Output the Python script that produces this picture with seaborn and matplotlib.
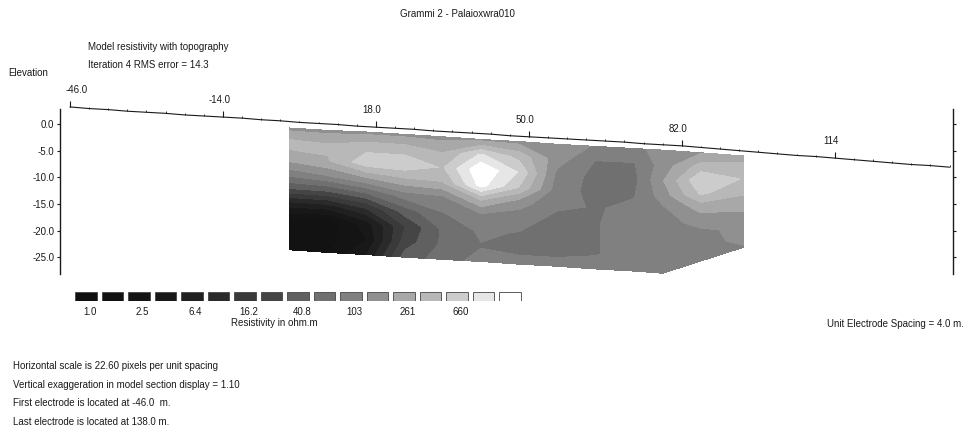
import numpy as np
import matplotlib.pyplot as plt
import seaborn as sns
from matplotlib.colors import ListedColormap, BoundaryNorm

# electrodes every 4 m, elevation of the ground surface at each one (m)
electrode_x = np.arange(-46, 139, 4)
electrode_z = [3.2, 2.9, 2.7, 2.4, 2.2, 2.0, 1.7, 1.5, 1.3, 1.1, 0.8, 0.6,
               0.3, 0.1, -0.1, -0.4, -0.6, -0.8, -1.0, -1.3, -1.5, -1.7, -1.9, -2.2,
               -2.4, -2.6, -2.8, -3.0, -3.2, -3.4, -3.7, -3.9, -4.1, -4.4, -4.7, -5.0,
               -5.3, -5.6, -5.9, -6.1, -6.4, -6.7, -7.0, -7.3, -7.6, -7.8, -8.1]

dist_labels = ["-46.0", "-14.0", "18.0", "50.0", "82.0", "114"]
elev_ticks = [0, -5, -10, -15, -20, -25]
elev_labels = ["0.0", "-5.0", "-10.0", "-15.0", "-20.0", "-25.0"]

legend_values = [1.0, 2.5, 6.4, 16.2, 40.8, 103, 261, 660]

# model section: columns (m), top and bottom elevation of each column (m)
section_x = [0, 8, 16, 24, 32, 40, 48, 56, 64, 72, 78, 86, 95]
section_top = [-0.75, -1.2, -1.5, -1.95, -2.4, -2.9, -3.3, -3.8, -4.2, -4.6, -4.9, -5.4, -6.0]
section_bottom = [-23.6, -24.1, -24.5, -25.0, -25.4, -25.8, -26.3, -26.7, -27.2, -27.6, -28.0, -25.7, -23.1]

# log10 resistivity, rows go from the top of the section to its bottom
log_rho = [
    [2.25, 2.25, 2.25, 2.25, 2.25, 2.25, 2.25, 2.2, 2.1, 2.05, 2.2, 2.3, 2.4],
    [2.6, 2.55, 2.65, 2.65, 2.5, 2.95, 2.65, 2.2, 1.9, 1.9, 2.2, 2.6, 2.6],
    [2.4, 2.5, 2.85, 2.85, 2.7, 3.3, 2.9, 2.05, 1.85, 1.85, 2.3, 2.9, 2.7],
    [2.0, 2.1, 2.3, 2.45, 2.5, 3.2, 2.7, 2.0, 1.85, 1.9, 2.2, 2.75, 2.6],
    [1.5, 1.5, 1.7, 2.0, 2.05, 2.5, 2.2, 1.95, 1.9, 1.95, 2.05, 2.4, 2.4],
    [0.8, 0.8, 1.1, 1.6, 1.9, 2.05, 2.0, 1.85, 1.9, 2.0, 2.0, 2.2, 2.3],
    [0.3, 0.2, 0.6, 1.3, 1.75, 1.95, 1.9, 1.8, 1.9, 2.0, 2.0, 2.05, 2.2],
    [0.2, 0.2, 0.5, 1.4, 1.75, 1.9, 1.85, 1.85, 1.9, 2.0, 2.0, 2.0, 2.2],
    [0.2, 0.3, 0.7, 1.6, 1.8, 2.0, 2.0, 2.0, 2.0, 2.0, 2.0, 2.05, 2.1],
]

grays = ["#101010", "#121212", "#141414", "#181818", "#202020", "#2a2a2a", "#3a3a3a",
         "#454545", "#606060", "#707070", "#808080", "#909090", "#a8a8a8", "#b8b8b8",
         "#cccccc", "#e6e6e6", "#ffffff"]
ink = "#1a1a1a"

sns.set_style("white")
plt.rcParams["font.family"] = ["Liberation Sans", "DejaVu Sans"]

W, H = 969, 432


def px_box(left, top, right, bottom):
    return [left / W, 1 - bottom / H, (right - left) / W, (bottom - top) / H]


fig = plt.figure(figsize=(W / 100, H / 100), dpi=100)

ax = fig.add_axes(px_box(60, 124 - 10 * 5.33, 953, 124 + 30 * 5.33))
ax.set_xlim(-48.09, 138.73)
ax.set_ylim(-30, 10)

# colour scale
step = np.diff(np.log10(legend_values)).mean() / 2
centers = np.log10(legend_values[0]) + step * np.arange(len(grays))
edges = np.append(centers - step / 2, centers[-1] + step / 2)
cmap = ListedColormap(grays)
cmap.set_under(grays[0])
cmap.set_over(grays[-1])
norm = BoundaryNorm(edges, len(grays))

frac = np.linspace(0, 1, len(log_rho))
X = np.tile(section_x, (len(frac), 1))
top = np.array(section_top)
bot = np.array(section_bottom)
Y = top + (bot - top) * frac[:, None]
ax.contourf(X, Y, np.array(log_rho), levels=edges, cmap=cmap, norm=norm, extend="both")

# topography with electrode marks
sns.lineplot(x=electrode_x, y=electrode_z, ax=ax, color=ink, lw=0.8)
ez = np.array(electrode_z)
ax.vlines(electrode_x, ez, ez + 0.35, color=ink, lw=0.6)
lab_x = electrode_x[::8]
lab_z = ez[::8]
ax.vlines(lab_x, lab_z, lab_z + 1.1, color=ink, lw=0.8)
for i, (x, z, t) in enumerate(zip(lab_x, lab_z, dist_labels)):
    if i == 0:
        ax.text(x - 1.0, z + 3.1, t, ha="left", va="center", fontsize=7, color=ink)
    else:
        ax.text(x - 0.8, z + 3.2, t, ha="center", va="center", fontsize=7, color=ink)

ax.set_xticks([])
ax.set_yticks(elev_ticks, elev_labels)
ax.tick_params(axis="y", left=True, right=True, labelright=False, direction="out",
               length=2.5, width=0.8, labelsize=7, pad=1.5, colors=ink)
for s in ["top", "bottom"]:
    ax.spines[s].set_visible(False)
for s in ["left", "right"]:
    ax.spines[s].set_bounds(-28.2, 2.8)
    ax.spines[s].set_linewidth(1.0)
    ax.spines[s].set_color(ink)

# colour legend
legax = fig.add_axes(px_box(72.75, 292, 523.25, 301))
boxes = [str(i) for i in range(len(grays))]
sns.barplot(x=boxes, y=[1] * len(grays), hue=boxes, palette=grays, legend=False,
            width=0.83, edgecolor="#444444", linewidth=0.6, saturation=1, ax=legax)
legax.set_xlim(-0.5, len(grays) - 0.5)
legax.set_ylim(-0.05, 1.05)
legax.axis("off")
for j, v in enumerate(legend_values):
    legax.text(2 * j + 0.14, -1.35, f"{v:.1f}" if v < 100 else f"{v:.0f}",
               ha="center", va="center", fontsize=7, color=ink)

# texts
def ftext(x, y, s, **kw):
    fig.text(x / W, 1 - y / H, s, va="center", fontsize=7, color=ink, **kw)


ftext(400, 14, "Grammi 2 - Palaioxwra010", ha="left")
ftext(88, 47, "Model resistivity with topography", ha="left")
ftext(88, 65, "Iteration 4 RMS error = 14.3", ha="left")
ftext(8, 73, "Elevation", ha="left")
ftext(274, 323, "Resistivity in ohm.m", ha="center")
ftext(964, 324, "Unit Electrode Spacing = 4.0 m.", ha="right")
ftext(13, 366, "Horizontal scale is 22.60 pixels per unit spacing", ha="left")
ftext(13, 385, "Vertical exaggeration in model section display = 1.10", ha="left")
ftext(13, 403, "First electrode is located at -46.0  m.", ha="left")
ftext(13, 422, "Last electrode is located at 138.0 m.", ha="left")

fig.savefig("out.png", dpi=100)
